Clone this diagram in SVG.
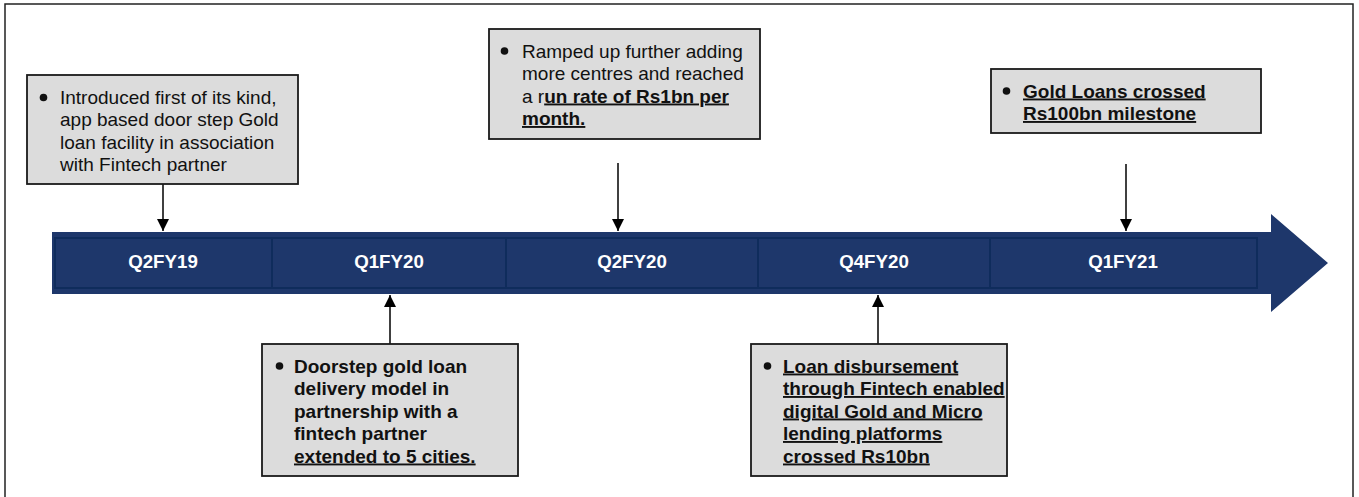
<svg xmlns="http://www.w3.org/2000/svg" width="1359" height="497" viewBox="0 0 1359 497">
<style>
.frame{fill:#fff;stroke:#222;stroke-width:1.5}
.box{fill:#dcdcdc;stroke:#1a1a1a;stroke-width:1.8}
.t{font-family:"Liberation Sans",Arial,sans-serif;font-size:19px;fill:#111}
.b{font-weight:bold}
.u{text-decoration:underline}
.lbl{font-family:"Liberation Sans",Arial,sans-serif;font-size:18.7px;font-weight:bold;fill:#fff;text-anchor:middle}
.cell{fill:none;stroke:#0f2c5c;stroke-width:2}
.con{stroke:#000;stroke-width:1.5;fill:none}
.dot{fill:#111}
</style>
<defs>
<marker id="ah" viewBox="0 0 12 12" refX="12" refY="6" markerWidth="12" markerHeight="12" markerUnits="userSpaceOnUse" orient="auto">
<path d="M0,0 L12,6 L0,12 Z" fill="#000"/>
</marker>
</defs>
<rect class="frame" x="5" y="4" width="1348" height="500"/>
<g id="timeline">
<polygon points="52,232 1271,232 1271,214 1328,263 1271,312 1271,294 52,294" fill="#1e376b"/>
<rect class="cell" x="55" y="238" width="217" height="50"/>
<rect class="cell" x="272" y="238" width="234" height="50"/>
<rect class="cell" x="506" y="238" width="252" height="50"/>
<rect class="cell" x="758" y="238" width="232" height="50"/>
<rect class="cell" x="990" y="238" width="267" height="50"/>
<text class="lbl" x="163" y="268">Q2FY19</text>
<text class="lbl" x="389" y="268">Q1FY20</text>
<text class="lbl" x="632" y="268">Q2FY20</text>
<text class="lbl" x="874" y="268">Q4FY20</text>
<text class="lbl" x="1123" y="268">Q1FY21</text>
</g>
<g id="connectors">
<line class="con" x1="163" y1="184" x2="163" y2="231" marker-end="url(#ah)"/>
<line class="con" x1="618" y1="163" x2="618" y2="231" marker-end="url(#ah)"/>
<line class="con" x1="1126" y1="164" x2="1126" y2="231" marker-end="url(#ah)"/>
<line class="con" x1="390" y1="344" x2="390" y2="295" marker-end="url(#ah)"/>
<line class="con" x1="878" y1="344" x2="878" y2="295" marker-end="url(#ah)"/>
</g>
<g id="node-q2fy19">
<rect class="box" x="27" y="75" width="271" height="109"/>
<circle class="dot" cx="43.5" cy="97.5" r="3.8"/>
<text class="t" x="60" y="103.5">Introduced first of its kind,</text>
<text class="t" x="60" y="126">app based door step Gold</text>
<text class="t" x="60" y="148.5">loan facility in association</text>
<text class="t" x="60" y="171">with Fintech partner</text>
</g>
<g id="node-q2fy20">
<rect class="box" x="489" y="29" width="271" height="110"/>
<circle class="dot" cx="504.5" cy="51" r="3.8"/>
<text class="t" x="522" y="57.5">Ramped up further adding</text>
<text class="t" x="522" y="80">more centres and reached</text>
<text class="t" x="522" y="102.5">a r<tspan class="b u">un rate of Rs1bn per</tspan></text>
<text class="t b u" x="522" y="125">month.</text>
</g>
<g id="node-q1fy21">
<rect class="box" x="991" y="69" width="270" height="64"/>
<circle class="dot" cx="1006.5" cy="91" r="3.8"/>
<text class="t b u" x="1023" y="97.5">Gold Loans crossed</text>
<text class="t b u" x="1023" y="120">Rs100bn milestone</text>
</g>
<g id="node-q1fy20">
<rect class="box" x="262" y="344" width="256" height="132"/>
<circle class="dot" cx="279.5" cy="366" r="3.8"/>
<text class="t b" x="294" y="372.5">Doorstep gold loan</text>
<text class="t b" x="294" y="395">delivery model in</text>
<text class="t b" x="294" y="417.5">partnership with a</text>
<text class="t b" x="294" y="440">fintech partner</text>
<text class="t b u" x="294" y="462.5">extended to 5 cities.</text>
</g>
<g id="node-q4fy20">
<rect class="box" x="751" y="344" width="256" height="132"/>
<circle class="dot" cx="767.5" cy="366" r="3.8"/>
<text class="t b u" x="783" y="372.5">Loan disbursement</text>
<text class="t b u" x="783" y="395">through Fintech enabled</text>
<text class="t b u" x="783" y="417.5">digital Gold and Micro</text>
<text class="t b u" x="783" y="440">lending platforms</text>
<text class="t b u" x="783" y="462.5">crossed Rs10bn</text>
</g>
</svg>
